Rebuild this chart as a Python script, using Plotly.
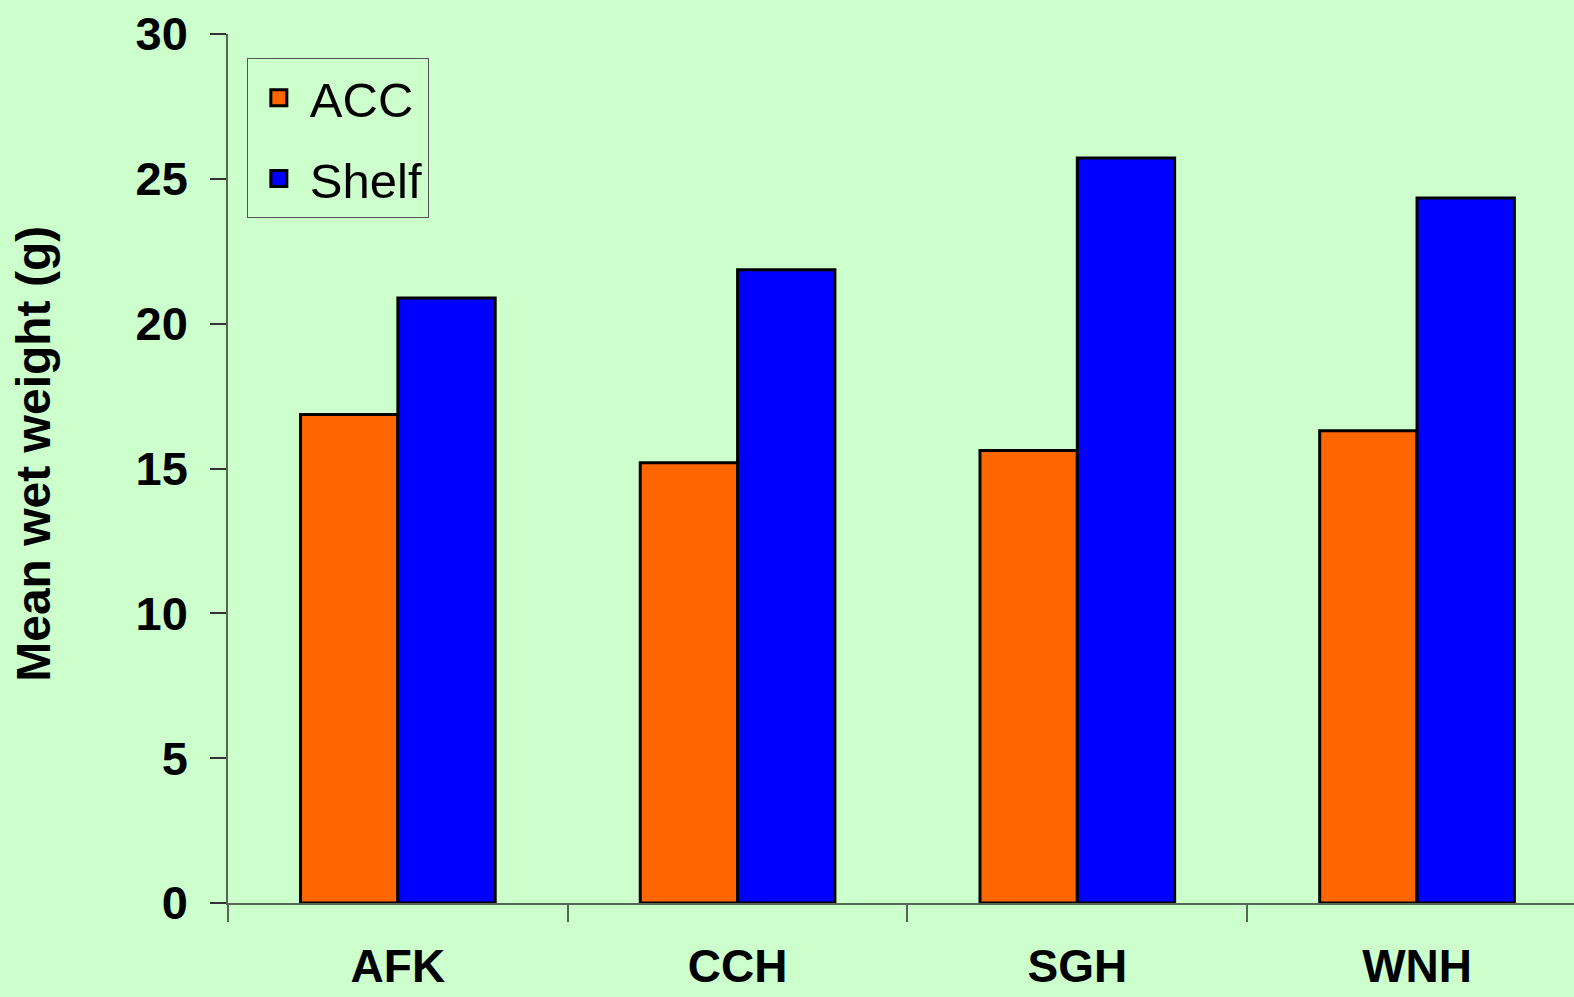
import plotly.graph_objects as go

categories = ["AFK", "CCH", "SGH", "WNH"]
acc_values = [16.86, 15.2, 15.62, 16.3]
shelf_values = [20.89, 21.86, 25.72, 24.34]
series_names = ["ACC", "Shelf"]
series_colors = ["#FF6600", "#0000FF"]
y_ticks = [0, 5, 10, 15, 20, 25, 30]
y_title = "Mean wet weight (g)"

fig = go.Figure()
for name, vals, col in zip(series_names, [acc_values, shelf_values], series_colors):
    fig.add_trace(go.Bar(
        x=categories, y=vals, name=name, legendgroup=name, showlegend=False,
        marker=dict(color=col, line=dict(color="black", width=3)),
    ))
# legend entries (large square swatches like the original)
for name, col in zip(series_names, series_colors):
    fig.add_trace(go.Scatter(
        x=[None], y=[None], mode="markers", name=name, legendgroup=name,
        marker=dict(symbol="square", size=16, color=col, line=dict(color="black", width=3)),
        hoverinfo="skip",
    ))

font_fam = "Liberation Sans, Arial, sans-serif"
fig.update_layout(
    width=1574, height=997,
    margin=dict(l=228, r=0, t=34, b=94, autoexpand=False),
    paper_bgcolor="#CCFFCC", plot_bgcolor="#CCFFCC",
    barmode="group", bargap=0.427, bargroupgap=0,
    font=dict(family=font_fam, color="black"),
    showlegend=True,
    legend=dict(
        x=0.014, y=0.972, xanchor="left", yanchor="top",
        bgcolor="#CCFFCC", bordercolor="#555555", borderwidth=1,
        font=dict(family=font_fam, size=49, color="black"),
        tracegroupgap=14, itemwidth=52,
    ),
    annotations=[dict(
        text=y_title, textangle=-90, xref="paper", yref="paper",
        x=-0.1441, y=0.517, xanchor="center", yanchor="middle", showarrow=False,
        font=dict(family=font_fam, size=48, weight="bold", color="black"),
    )],
)
fig.update_xaxes(
    range=[-0.5, 3.462], showline=True, linecolor="#556655", linewidth=1.5,
    ticks="outside", tickson="boundaries", ticklen=17, tickcolor="#556655", tickwidth=1.5,
    tickfont=dict(family=font_fam, size=46, weight="bold", color="black"),
    ticklabelstandoff=22, showgrid=False, zeroline=False, automargin=False,
)
fig.update_yaxes(
    range=[0, 30], tickvals=y_ticks, showline=True, linecolor="#556655", linewidth=1.5,
    ticks="outside", ticklen=16, tickcolor="#333333", tickwidth=1.5,
    tickfont=dict(family=font_fam, size=47, weight="bold", color="black"),
    ticklabelstandoff=13, showgrid=False, zeroline=False, automargin=False,
)
fig.write_html("out.html", config={"displayModeBar": False},
               post_script="document.body.style.margin='0';")
